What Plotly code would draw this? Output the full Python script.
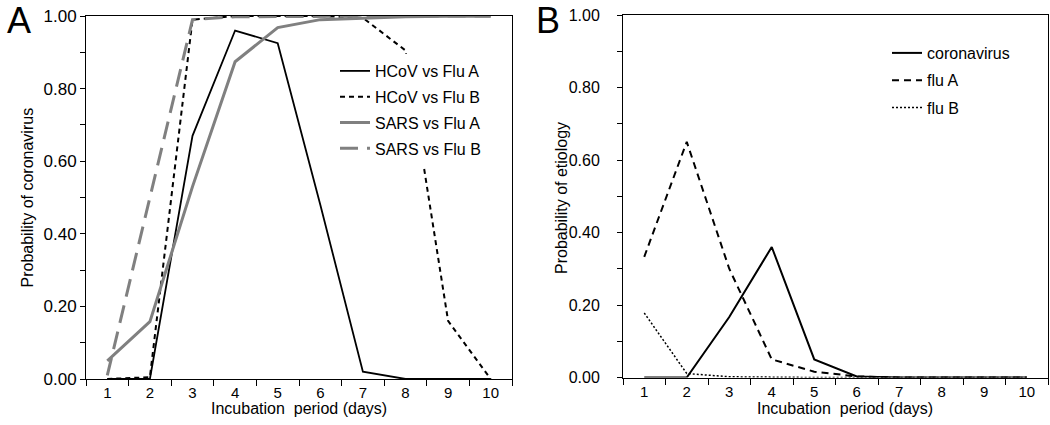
import plotly.graph_objects as go

# ---------------- data ----------------
days = list(range(1, 11))
day_labels = [str(d) for d in days]

# Panel A: probability of coronavirus
hcov_flu_a = [0.0, 0.0, 0.67, 0.96, 0.925, 0.48, 0.02, 0.0, 0.0, 0.0]
hcov_flu_b = [0.0, 0.005, 0.99, 1.0, 1.0, 1.0, 0.995, 0.905, 0.16, 0.0]
sars_flu_a = [0.05, 0.158, 0.53, 0.874, 0.968, 0.99, 0.994, 0.998, 0.999, 0.999]
sars_flu_b = [0.01, 0.5, 0.99, 0.998, 0.999, 1.0, 1.0, 1.0, 1.0, 1.0]

# Panel B: probability of etiology
coronavirus = [0.0, 0.0, 0.167, 0.36, 0.05, 0.003, 0.0, 0.0, 0.0, 0.0]
flu_a = [0.333, 0.65, 0.30, 0.05, 0.016, 0.003, 0.0, 0.0, 0.0, 0.0]
flu_b = [0.178, 0.011, 0.002, 0.0, 0.0, 0.0, 0.0, 0.0, 0.0, 0.0]

y_ticks = [0.0, 0.2, 0.4, 0.6, 0.8, 1.0]

# ---------------- layout helpers ----------------
W, H = 1050, 425
FONT = "Liberation Sans, Arial, sans-serif"
GRAY = "#808080"


def fx(px):
    return px / W


def fy(py):
    return 1 - py / H


fig = go.Figure()

# Panel A traces
fig.add_trace(go.Scatter(x=days, y=hcov_flu_a, mode="lines", name="HCoV vs Flu A",
                         line=dict(color="black", width=1.8),
                         xaxis="x", yaxis="y", legend="legend", legendgroup="a1"))
fig.add_trace(go.Scatter(x=days, y=hcov_flu_b, mode="lines", name="HCoV vs Flu B",
                         line=dict(color="black", width=2, dash="5px,4px"),
                         xaxis="x", yaxis="y", legend="legend", legendgroup="a2"))
fig.add_trace(go.Scatter(x=days, y=sars_flu_a, mode="lines", name="SARS vs Flu A",
                         line=dict(color=GRAY, width=3),
                         xaxis="x", yaxis="y", legend="legend", legendgroup="a3"))
fig.add_trace(go.Scatter(x=days, y=sars_flu_b, mode="lines", name="SARS vs Flu B",
                         line=dict(color=GRAY, width=3, dash="18px,9px"),
                         xaxis="x", yaxis="y", legend="legend", legendgroup="a4"))

# Panel B traces
fig.add_trace(go.Scatter(x=days, y=coronavirus, mode="lines", name="coronavirus",
                         line=dict(color="black", width=2),
                         xaxis="x2", yaxis="y2", legend="legend2", legendgroup="b1"))
fig.add_trace(go.Scatter(x=days, y=flu_a, mode="lines", name="flu A",
                         line=dict(color="black", width=2, dash="7px,5px"),
                         xaxis="x2", yaxis="y2", legend="legend2", legendgroup="b2"))
fig.add_trace(go.Scatter(x=days, y=flu_b, mode="lines", name="flu B",
                         line=dict(color="black", width=1.5, dash="2px,2px"),
                         xaxis="x2", yaxis="y2", legend="legend2", legendgroup="b3"))


def xaxis_cfg(domain, anchor):
    return dict(domain=domain, anchor=anchor, range=[0.5, 10.5], tickmode="array",
                tickvals=days, ticktext=day_labels, ticks="", showline=True,
                linecolor="black", linewidth=1, mirror=True, showgrid=False,
                zeroline=False, automargin=False,
                tickfont=dict(size=15, color="black", family=FONT),
                ticklabelstandoff=0,
                minor=dict(tickmode="array", tickvals=[0.5 + i for i in range(11)],
                           ticks="outside", ticklen=6, tickcolor="black", tickwidth=1,
                           showgrid=False))


def yaxis_cfg(domain, anchor, size, standoff):
    return dict(domain=domain, anchor=anchor, range=[0, 1], tickmode="array",
                tickvals=y_ticks, tickformat=".2f", ticks="outside", ticklen=5,
                tickcolor="black", showline=True, linecolor="black", linewidth=1,
                mirror=True, showgrid=False, zeroline=False, automargin=False,
                tickfont=dict(size=size, color="black", family=FONT),
                ticklabelstandoff=standoff,
                minor=dict(tick0=0, dtick=0.1, ticks="outside", ticklen=5,
                           tickcolor="black", tickwidth=1, showgrid=False))


fig.update_layout(
    width=W, height=H,
    margin=dict(l=0, r=0, t=0, b=0, autoexpand=False),
    paper_bgcolor="white", plot_bgcolor="white",
    font=dict(family=FONT, color="black", size=16),
    xaxis=xaxis_cfg([fx(86), fx(512)], "y"),
    yaxis=yaxis_cfg([fy(379), fy(16)], "x", 17, 0),
    xaxis2=xaxis_cfg([fx(623), fx(1048)], "y2"),
    yaxis2=yaxis_cfg([fy(377.5), fy(15)], "x2", 16, 14),
    legend=dict(x=fx(335), xanchor="left", y=fy(54), yanchor="top",
                bgcolor="white", borderwidth=0, font=dict(size=16, family=FONT),
                tracegroupgap=2, itemclick=False),
    legend2=dict(x=fx(887), xanchor="left", y=fy(36), yanchor="top",
                 bgcolor="rgba(0,0,0,0)", borderwidth=0, font=dict(size=16, family=FONT),
                 tracegroupgap=3.5, itemclick=False),
    showlegend=True,
)

ann = [
    dict(text="A", x=fx(19), y=fy(20), font=dict(size=36)),
    dict(text="B", x=fx(548), y=fy(20), font=dict(size=36)),
    dict(text="Incubation\u00a0 period (days)", x=fx(299), y=fy(408)),
    dict(text="Incubation\u00a0 period (days)", x=fx(845), y=fy(408)),
    dict(text="Probability of coronavirus", x=fx(27), y=fy(197.5), textangle=-90),
    dict(text="Probability of etiology", x=fx(562), y=fy(198), textangle=-90),
]
for a in ann:
    a.update(xref="paper", yref="paper", xanchor="center", yanchor="middle",
             showarrow=False)
    a.setdefault("font", dict(size=16))
    a["font"].setdefault("size", 16)
    a["font"]["family"] = FONT
    a["font"]["color"] = "black"
fig.update_layout(annotations=ann)

fig.write_html("out.html",
               config={"displayModeBar": False},
               post_script="document.body.style.margin='0px';"
                           "document.body.style.overflow='hidden';")
